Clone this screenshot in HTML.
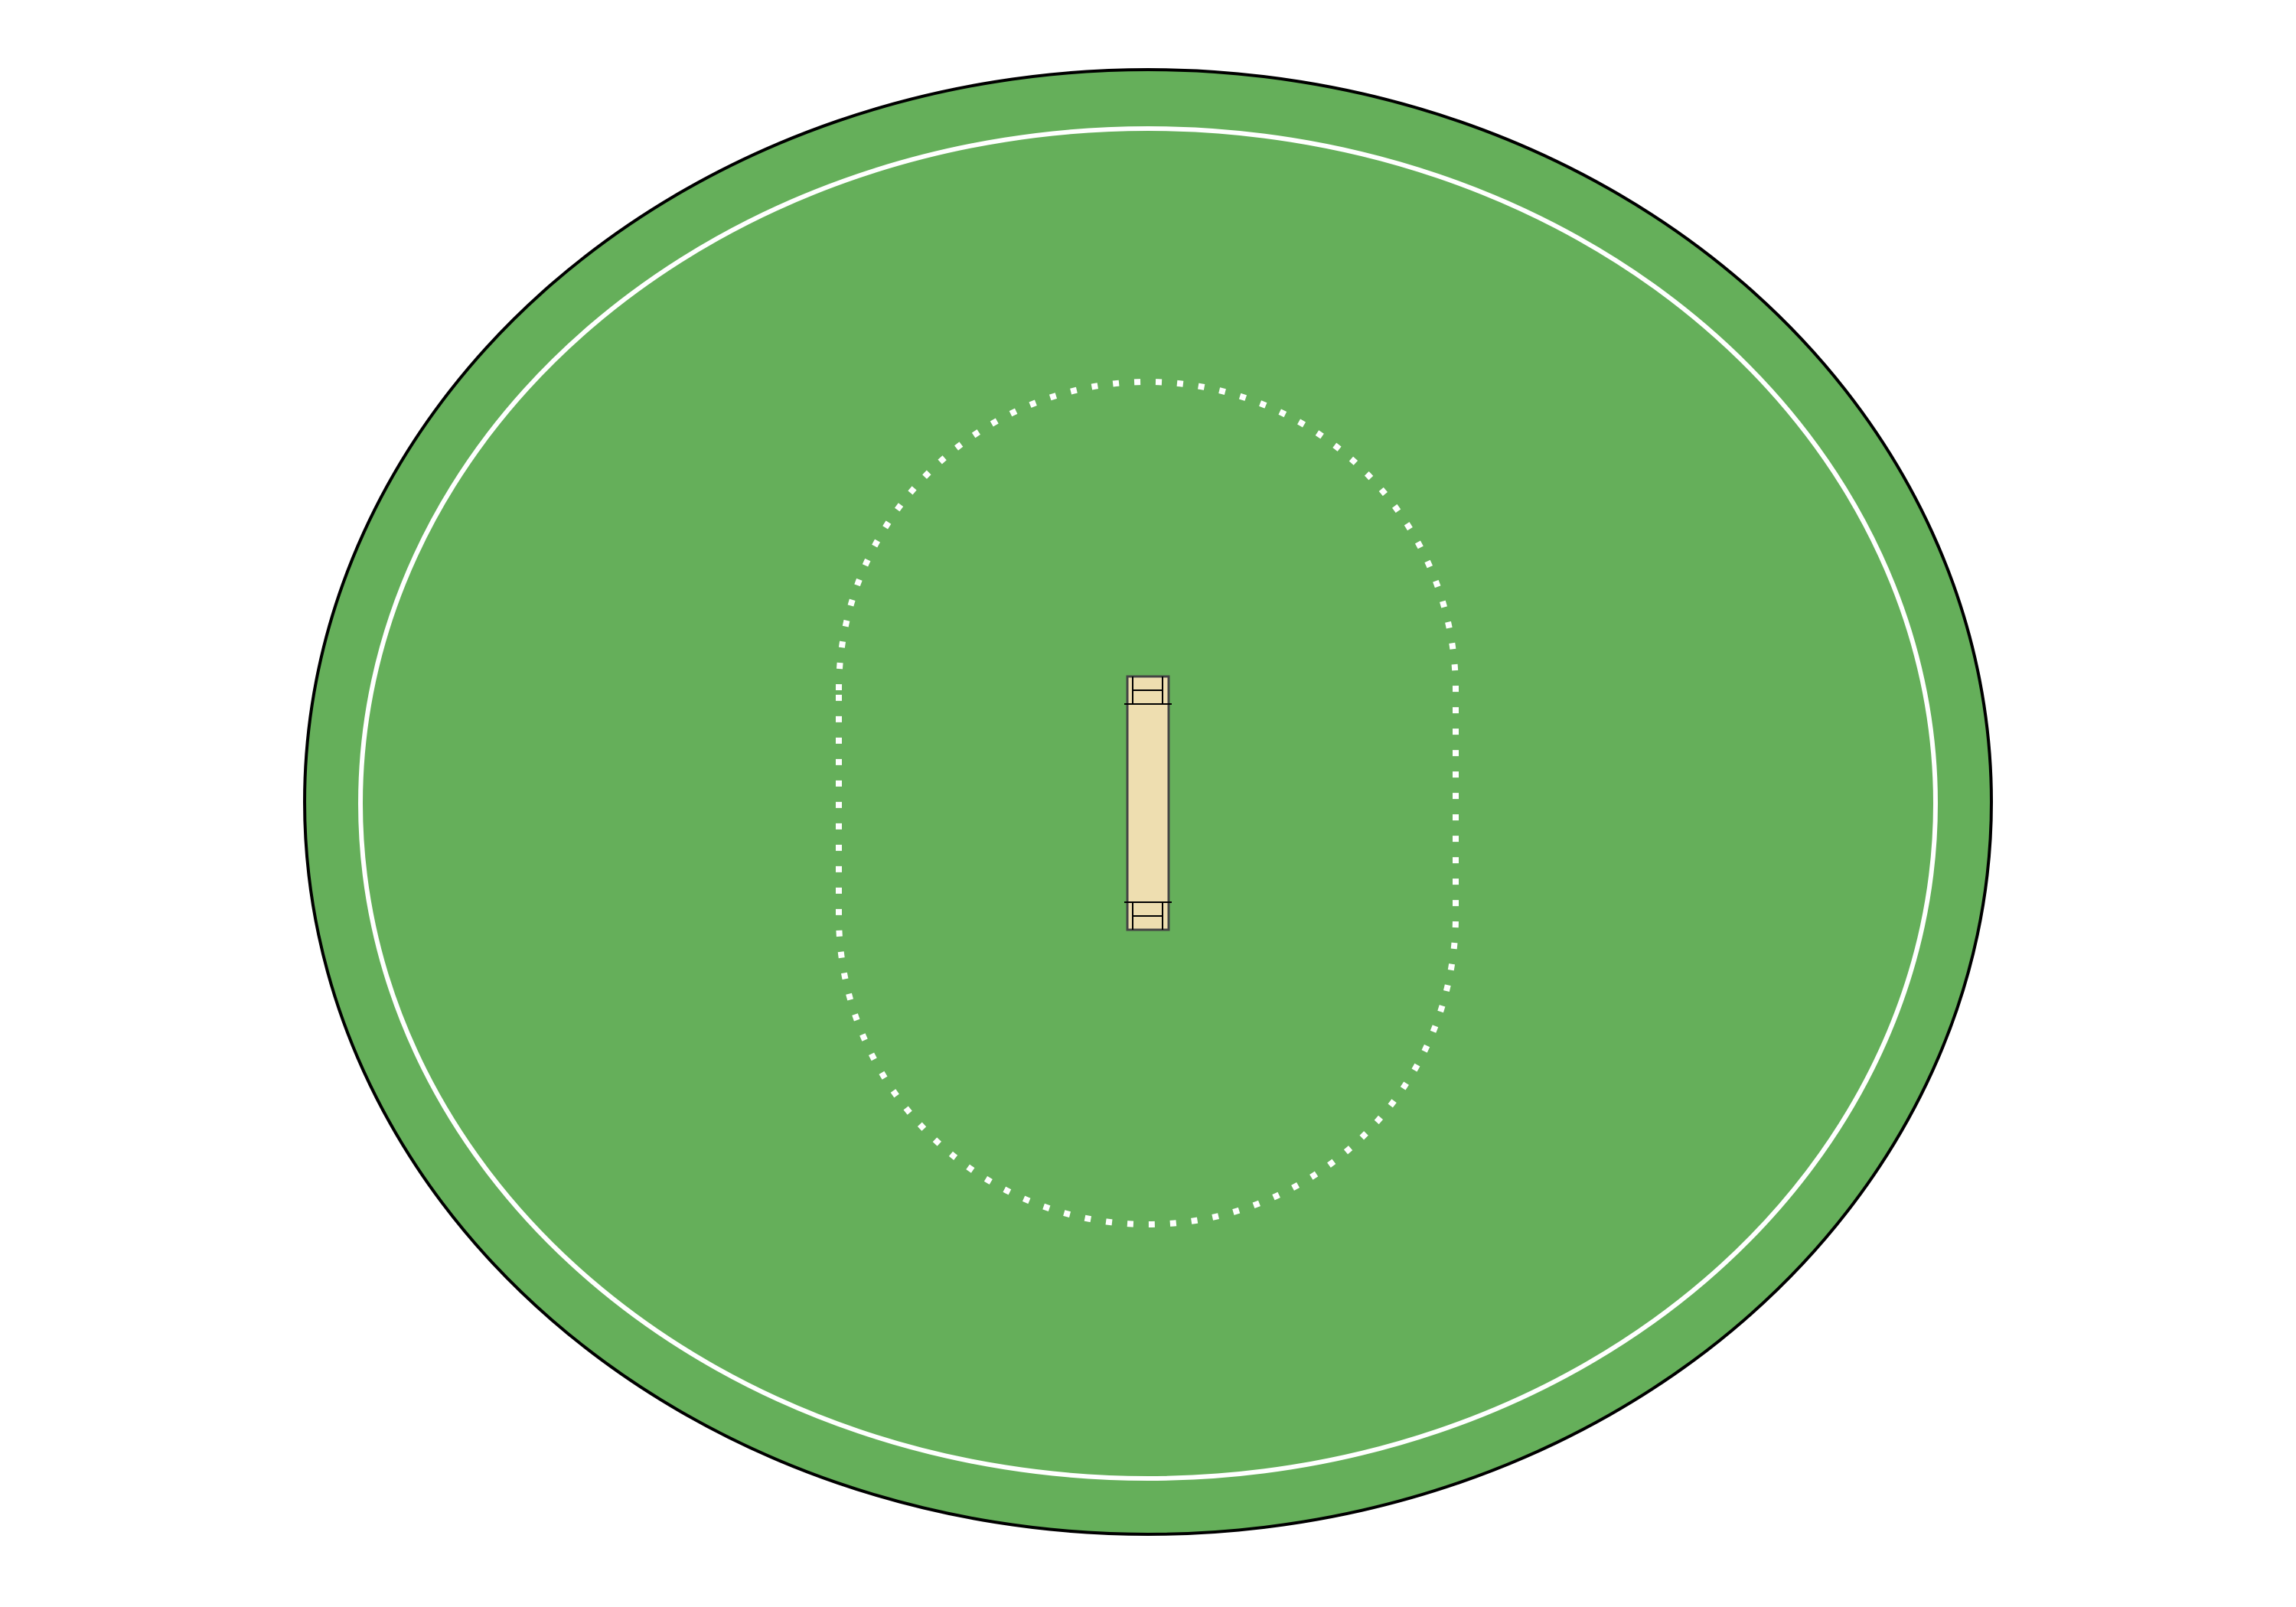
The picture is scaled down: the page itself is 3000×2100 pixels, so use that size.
<!DOCTYPE html>
<html><head><style>html,body{margin:0;padding:0;background:#fff}svg{display:block}</style></head>
<body>
<svg width="3000" height="2100" viewBox="0 0 3000 2100">
<ellipse cx="1500" cy="1048" rx="1102" ry="957" fill="#65af5a" stroke="#000" stroke-width="4"/>
<ellipse cx="1500" cy="1050" rx="1029" ry="882" fill="none" stroke="#fff" stroke-width="6"/>
<path d="M1096 902 A403 403 0 0 1 1902 902 L1902 1197 A403 403 0 0 1 1096 1197 Z" fill="none" stroke="#fff" stroke-width="8" stroke-dasharray="8 20"/>
<g stroke="#000" stroke-width="2">
<rect x="1473" y="884" width="54" height="331" fill="#eedeb0" stroke="#444" stroke-width="3"/>
<line x1="1469" y1="920" x2="1531" y2="920"/>
<line x1="1469" y1="1179" x2="1531" y2="1179"/>
<line x1="1480" y1="884" x2="1480" y2="920"/>
<line x1="1519" y1="884" x2="1519" y2="920"/>
<line x1="1480" y1="902" x2="1519" y2="902"/>
<line x1="1480" y1="1179" x2="1480" y2="1215"/>
<line x1="1519" y1="1179" x2="1519" y2="1215"/>
<line x1="1480" y1="1197" x2="1519" y2="1197"/>
</g>
</svg>
</body></html>
